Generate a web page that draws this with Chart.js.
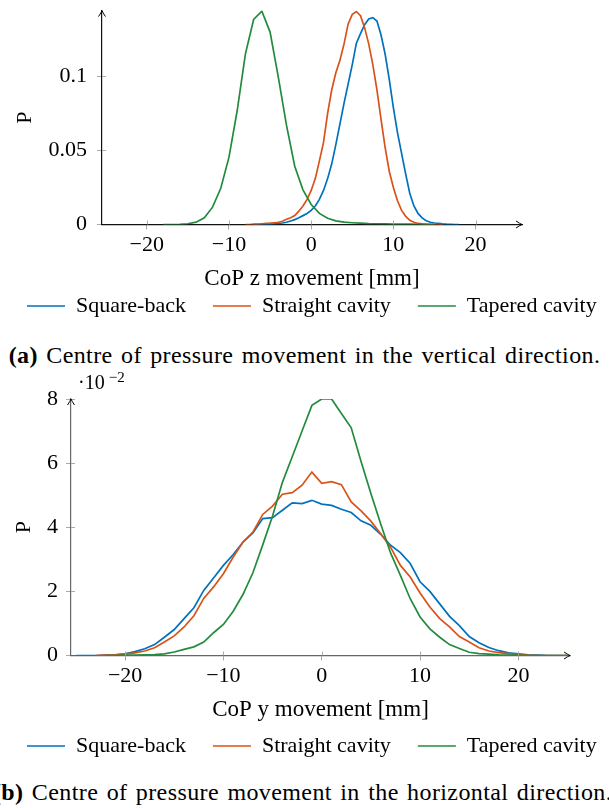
<!DOCTYPE html>
<html>
<head>
<meta charset="utf-8">
<script src="https://cdn.jsdelivr.net/npm/chart.js@4.4.1/dist/chart.umd.min.js"></script>
<style>
html,body{margin:0;padding:0;background:#fff;}
body{width:609px;height:808px;position:relative;overflow:hidden;font-family:"Liberation Serif",serif;color:#000;}
canvas{position:absolute;left:0;}
#c1{top:0;}
#c2{top:380px;}
.cap{position:absolute;left:-100px;width:809px;text-align:center;font-size:24px;line-height:24px;letter-spacing:0.4px;word-spacing:2px;white-space:nowrap;}
.mult{position:absolute;left:78px;top:372px;font-size:20px;line-height:20px;white-space:nowrap;}
.mult span{position:relative;top:-7px;font-size:15px;margin-left:4px;}
</style>
</head>
<body>
<canvas id="c1" width="609" height="327"></canvas>
<div class="cap" style="top:343px"><b>(a)</b> Centre of pressure movement in the vertical direction.</div>
<canvas id="c2" width="609" height="387"></canvas>
<div class="mult">·10<span>−2</span></div>
<div class="cap" style="top:780px;left:-102px"><b>(b)</b> Centre of pressure movement in the horizontal direction.</div>
<script>
const seriesNames=["Square-back","Straight cavity","Tapered cavity"];
const seriesColors=["#0072BD","#D95319","#238B3E"];

// (a) CoP z movement, P per bin
const zBinsSquare=[-7,-6.5,-6,-5.5,-5,-4.5,-4,-3.5,-3,-2.5,-2,-1.5,-1,-0.5,0,0.5,1,1.5,2,2.5,3,3.5,4,4.5,5,5.5,6,6.5,7,7.5,8,8.5,9,9.5,10,10.5,11,11.5,12,12.5,13,13.5,14,14.5,15,15.5,16,16.5,17,17.5,18];
const zSquare=[0,0,0.0001,0.0002,0.0003,0.0005,0.0008,0.001,0.0015,0.0024,0.0033,0.0046,0.006,0.0074,0.0095,0.0125,0.017,0.023,0.031,0.041,0.054,0.068,0.082,0.095,0.108,0.1225,0.129,0.135,0.1388,0.1397,0.1375,0.128,0.115,0.098,0.079,0.062,0.048,0.034,0.021,0.0125,0.0075,0.0045,0.0025,0.0015,0.001,0.0007,0.0004,0.0002,0.0001,0,0];
const zBinsStraight=[-8,-7.5,-7,-6.5,-6,-5.5,-5,-4.5,-4,-3.5,-3,-2.5,-2,-1.5,-1,-0.5,0,0.5,1,1.5,2,2.5,3,3.5,4,4.5,5,5.5,6,6.5,7,7.5,8,8.5,9,9.5,10,10.5,11,11.5,12,12.5,13,13.5,14,14.5,15,15.5,16];
const zStraight=[0,0,0.0002,0.0003,0.0005,0.0007,0.0009,0.0012,0.0015,0.0022,0.0035,0.0045,0.006,0.009,0.0125,0.017,0.023,0.031,0.043,0.0555,0.075,0.091,0.1025,0.111,0.122,0.1355,0.142,0.1439,0.141,0.133,0.122,0.108,0.091,0.071,0.052,0.036,0.025,0.016,0.0095,0.0055,0.0028,0.0015,0.0007,0.0004,0.0002,0.0001,0,0,0];
const zBinsTapered=[-18,-17,-16,-15,-14,-13,-12,-11,-10,-9,-8,-7,-6,-5,-4,-3,-2,-1,0,1,2,3,4,5,6,7,8,9,10,11,12,13,14,15];
const zTapered=[0,0,0.0001,0.0005,0.0016,0.0045,0.0117,0.0245,0.0455,0.077,0.1153,0.1385,0.1441,0.130,0.0995,0.0669,0.0394,0.0234,0.0135,0.0075,0.0042,0.0025,0.0016,0.0012,0.0009,0.0006,0.0005,0.0004,0.0003,0.0002,0.0002,0.0001,0.0001,0];
const zTicksX=[-20,-10,0,10,20];
const zTicksY=[0,0.05,0.1];

// (b) CoP y movement, P per bin in units of 1e-2
const yBinsSquare=[-25,-24,-23,-22,-21,-20,-19,-18,-17,-16,-15,-14,-13,-12,-11,-10,-9,-8,-7,-6,-5,-4,-3,-2,-1,0,1,2,3,4,5,6,7,8,9,10,11,12,13,14,15,16,17,18,19,20,21,22,23,24,25];
const ySquare=[0,0,0,0.01,0.02,0.05,0.12,0.21,0.34,0.57,0.81,1.15,1.49,2.03,2.42,2.81,3.15,3.54,3.82,4.27,4.30,4.53,4.76,4.74,4.84,4.72,4.68,4.56,4.46,4.20,4.06,3.78,3.44,3.21,2.87,2.3,2.0,1.61,1.22,0.93,0.59,0.40,0.25,0.15,0.08,0.05,0.02,0.01,0,0,0];
const yBinsStraight=[-23,-22,-21,-20,-19,-18,-17,-16,-15,-14,-13,-12,-11,-10,-9,-8,-7,-6,-5,-4,-3,-2,-1,0,1,2,3,4,5,6,7,8,9,10,11,12,13,14,15,16,17,18,19,20,21,22,23,24,25];
const yStraight=[0,0.01,0.02,0.05,0.08,0.14,0.24,0.42,0.61,0.89,1.24,1.78,2.14,2.55,3.07,3.54,3.85,4.40,4.66,5.03,5.08,5.31,5.72,5.37,5.42,5.33,4.79,4.51,4.19,3.80,3.38,2.81,2.45,1.95,1.51,1.15,0.89,0.59,0.42,0.24,0.14,0.09,0.06,0.03,0.01,0,0,0,0];
const yBinsTapered=[-22,-21,-20,-19,-18,-17,-16,-15,-14,-13,-12,-11,-10,-9,-8,-7,-6,-5,-4,-3,-2,-1,0,1,2,3,4,5,6,7,8,9,10,11,12,13,14,15,16,17,18,19,20,21,22,23,24,25];
const yTapered=[0,0,0.01,0.01,0.02,0.03,0.05,0.11,0.19,0.27,0.42,0.71,0.97,1.38,1.91,2.58,3.45,4.35,5.4,6.2,7.0,7.8,8.0,8.0,7.55,7.1,6.05,5.05,4.1,3.2,2.5,1.77,1.2,0.83,0.57,0.34,0.22,0.1,0.06,0.04,0.02,0.01,0.01,0,0,0,0,0];
const yTicksX=[-20,-10,0,10,20];
const yTicksY=[0,2,4,6,8];

Chart.defaults.font.family="'Liberation Serif', serif";
Chart.defaults.font.size=22;
Chart.defaults.color="#000";

function toPoints(xs,vals){
  return xs.map((x,i)=>({x:x,y:vals[i]}));
}

function makeDatasets(bins,vals){
  return vals.map((v,i)=>({
    label:seriesNames[i],
    data:toPoints(bins[i],v),
    borderColor:seriesColors[i],
    backgroundColor:seriesColors[i],
    borderWidth:1.7,
    pointRadius:0,
    pointStyle:"line",
    tension:0,
    fill:false,
    order:3-i
  }));
}

// arrows at the axis ends + tick marks on the inner side
const axisDeco={
  id:"axisDeco",
  afterDraw(chart){
    const {ctx,chartArea:a,scales}=chart;
    ctx.save();
    ctx.strokeStyle="#aaa";
    ctx.lineWidth=1;
    scales.x.ticks.forEach(t=>{
      const px=Math.round(scales.x.getPixelForValue(t.value))+0.5;
      ctx.beginPath();ctx.moveTo(px,a.bottom);ctx.lineTo(px,a.bottom-4);ctx.stroke();
    });
    scales.y.ticks.forEach(t=>{
      if(t.value===0)return;
      const py=Math.round(scales.y.getPixelForValue(t.value))+0.5;
      ctx.beginPath();ctx.moveTo(a.left,py);ctx.lineTo(a.left+4,py);ctx.stroke();
    });
    ctx.strokeStyle="#000";
    ctx.lineWidth=1;
    const r=a.right, b=a.bottom, l=a.left, t=a.top;
    ctx.beginPath();
    ctx.moveTo(r-6,b-3.5);ctx.quadraticCurveTo(r-2,b-0.8,r,b);ctx.quadraticCurveTo(r-2,b+0.8,r-6,b+3.5);
    ctx.stroke();
    ctx.beginPath();
    ctx.moveTo(l-3.5,t+6);ctx.quadraticCurveTo(l-0.8,t+2,l,t);ctx.quadraticCurveTo(l+0.8,t+2,l+3.5,t+6);
    ctx.stroke();
    ctx.restore();
  }
};

function minusLabel(v){
  return v<0?"\u2212"+Math.abs(v):String(v);
}

function makeChart(id,s){
  return new Chart(id,{
    type:"line",
    data:{datasets:s.datasets},
    plugins:[axisDeco],
    options:{
      responsive:false,
      animation:false,
      layout:{padding:{top:s.padTop,left:0,right:-30,bottom:0}},
      plugins:{
        tooltip:{enabled:false},
        legend:{
          position:"bottom",
          align:"start",
          labels:{
            usePointStyle:true,
            pointStyleWidth:38,
            boxHeight:2,
            padding:27,
            font:{size:22},
            sort:(a,b)=>a.datasetIndex-b.datasetIndex
          }
        }
      },
      scales:{
        x:{
          type:"linear",
          min:s.xMin,max:s.xMax,
          border:{display:true,color:s.axisColor,width:1.2},
          grid:{display:true,drawOnChartArea:false,drawTicks:true,tickLength:5,color:"#aaa"},
          ticks:{padding:3,callback:minusLabel},
          title:{display:true,text:s.xTitle,font:{size:23},padding:{top:0,bottom:s.xTitlePad}},
          afterBuildTicks(scale){scale.ticks=s.xTicks.map(v=>({value:v}));},
          afterFit(scale){scale.height=s.xHeight;scale.paddingLeft=0;scale.paddingRight=0;}
        },
        y:{
          type:"linear",
          min:0,max:s.yMax,
          border:{display:true,color:s.axisColor,width:1.2},
          grid:{display:true,drawOnChartArea:false,drawTicks:true,tickLength:5,color:"#aaa"},
          ticks:{padding:s.yTickPad,callback:s.yLabel},
          title:{display:true,text:"P",padding:{top:s.yTitlePad,bottom:0}},
          afterBuildTicks(scale){scale.ticks=s.yTicks.map(v=>({value:v}));},
          afterFit(scale){scale.width=s.yWidth;scale.paddingTop=0;scale.paddingBottom=0;}
        },
        yr:{
          type:"linear",
          position:"right",
          grid:{display:false},
          border:{display:false},
          ticks:{display:false},
          afterFit(scale){scale.width=s.rightWidth+30;}
        }
      }
    }
  });
}

makeChart("c1",{
  datasets:makeDatasets([zBinsSquare,zBinsStraight,zBinsTapered],[zSquare,zStraight,zTapered]),
  padTop:10.6,
  xMin:-25.45,xMax:25.65,
  xTicks:zTicksX,
  yMax:0.1445,
  yTicks:zTicksY,
  yLabel:v=>String(v),
  axisColor:"#111",
  xTitle:"CoP z movement [mm]",
  xTitlePad:-24.8,
  xHeight:43.5,
  yWidth:102,
  yTickPad:10,
  yTitlePad:11.8,
  rightWidth:87
});

makeChart("c2",{
  datasets:makeDatasets([yBinsSquare,yBinsStraight,yBinsTapered],[ySquare,yStraight,yTapered]),
  padTop:19,
  xMin:-25.5,xMax:25.25,
  xTicks:yTicksX,
  yMax:8,
  yTicks:yTicksY,
  yLabel:v=>String(v),
  axisColor:"#666",
  xTitle:"CoP y movement [mm]",
  xTitlePad:-15.8,
  xHeight:52.5,
  yWidth:71,
  yTickPad:8,
  yTitlePad:10.8,
  rightWidth:39
});
</script>
</body>
</html>
